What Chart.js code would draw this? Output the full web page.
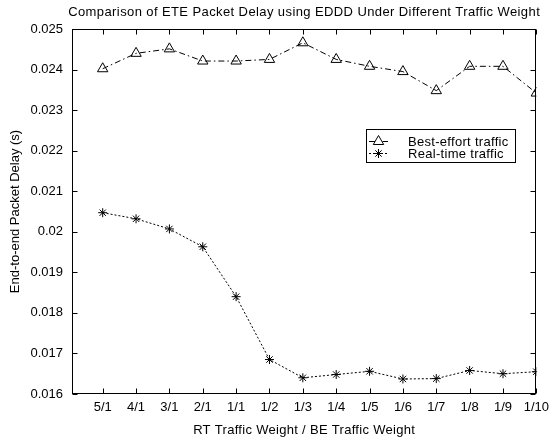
<!DOCTYPE html>
<html>
<head>
<meta charset="utf-8">
<script src="https://cdn.jsdelivr.net/npm/chart.js@4"></script>
<style>
  html, body { margin: 0; padding: 0; background: #fff; }
  #wrap { width: 555px; height: 444px; position: relative; }
</style>
</head>
<body>
<div id="wrap"><canvas id="my-chart"></canvas></div>
<script>
// values
const weightLabels = ["5/1", "4/1", "3/1", "2/1", "1/1", "1/2", "1/3", "1/4", "1/5", "1/6", "1/7", "1/8", "1/9", "1/10"];
const bestEffort = [0.02402, 0.0244, 0.02451, 0.02421, 0.02421, 0.02425, 0.02466, 0.02425, 0.02408, 0.02395, 0.02348, 0.02408, 0.02408, 0.02342];
const realTime = [0.02047, 0.02032, 0.02007, 0.01963, 0.0184, 0.01685, 0.0164, 0.01648, 0.01656, 0.01637, 0.01638, 0.01658, 0.0165, 0.01655];
const yMin = 0.016;
const yMax = 0.025;
const yStep = 0.001;

const titleText = "Comparison of ETE Packet Delay using EDDD Under Different Traffic Weight";
const xTitleText = "RT Traffic Weight / BE Traffic Weight";

const FONT = "'Liberation Sans', Arial, sans-serif";
const ctx = document.getElementById("my-chart");

function toPoints(values) {
  return values.map((v, i) => ({ x: i + 1, y: v }));
}

// box round the axes with inward tick marks, like the matlab figure
const boxPlugin = {
  id: "boxPlugin",
  afterDatasetsDraw(chart) {
    const { ctx, chartArea: a, scales } = chart;
    const L = Math.round(a.left) + 0.5, R = Math.round(a.right) - 0.5;
    const T = Math.round(a.top) + 0.5, B = Math.round(a.bottom) - 0.5;
    ctx.save();
    ctx.setLineDash([]);
    ctx.strokeStyle = "#000";
    ctx.lineWidth = 1;
    ctx.strokeRect(L, T, R - L, B - T);
    const len = 5;
    ctx.beginPath();
    scales.x.ticks.forEach((t) => {
      const px = Math.round(scales.x.getPixelForValue(t.value)) + 0.5;
      ctx.moveTo(px, B); ctx.lineTo(px, B - len);
      ctx.moveTo(px, T); ctx.lineTo(px, T + len);
    });
    scales.y.ticks.forEach((t) => {
      const py = Math.round(scales.y.getPixelForValue(t.value)) + 0.5;
      ctx.moveTo(L, py); ctx.lineTo(L + len, py);
      ctx.moveTo(R, py); ctx.lineTo(R - len, py);
    });
    ctx.stroke();
    ctx.restore();
  },
};

// titles centred over the axes box (matlab spaces letters a bit wider)
const axesTitles = {
  id: "axesTitles",
  afterDraw(chart) {
    const c = chart.ctx;
    const a = chart.chartArea;
    const cx = (a.left + a.right) / 2;
    c.save();
    c.fillStyle = "#000";
    c.font = "13px " + FONT;
    c.textAlign = "center";
    c.textBaseline = "middle";
    c.letterSpacing = "0.4px";
    c.fillText(titleText, cx, 12.5);
    c.letterSpacing = "0.3px";
    c.fillText(xTitleText, cx, 430.5);
    c.restore();
  },
};

// legend box inside the plot
const boxLegend = {
  id: "boxLegend",
  afterDraw(chart) {
    const c = chart.ctx;
    const x0 = 366, y0 = 129.5, w = 149, h = 33;
    c.save();
    c.fillStyle = "#fff";
    c.fillRect(x0, y0, w, h);
    c.strokeStyle = "#000";
    c.lineWidth = 1;
    c.setLineDash([]);
    c.strokeRect(x0 + 0.5, y0, w, h);
    chart.data.datasets.forEach((ds, i) => {
      const y = 141.5 + i * 12;
      c.strokeStyle = "#000";
      c.lineWidth = 1;
      c.setLineDash(ds.borderDash || []);
      c.beginPath();
      c.moveTo(369, y);
      c.lineTo(388, y);
      c.stroke();
      c.setLineDash([]);
      Chart.helpers.drawPoint(c, {
        pointStyle: ds.pointStyle,
        radius: ds.pointRadius,
        rotation: 0,
        borderWidth: 1,
      }, 378.5, y);
      c.fillStyle = "#000";
      c.font = "13px " + FONT;
      c.textBaseline = "middle";
      c.letterSpacing = "0.3px";
      c.fillText(ds.label, 408, y + 0.5);
    });
    c.restore();
  },
};

const chart = new Chart(ctx, {
  type: "line",
  data: {
    datasets: [
      {
        label: "Best-effort traffic",
        data: toPoints(bestEffort),
        borderColor: "#000",
        borderWidth: 1,
        borderDash: [6, 3, 1.5, 3],
        pointStyle: "triangle",
        pointRadius: 6,
        pointBorderColor: "#000",
        pointBackgroundColor: "rgba(0,0,0,0)",
        pointBorderWidth: 1,
        tension: 0,
      },
      {
        label: "Real-time traffic",
        data: toPoints(realTime),
        borderColor: "#000",
        borderWidth: 1,
        borderDash: [2, 2],
        pointStyle: "star",
        pointRadius: 4.5,
        pointBorderColor: "#000",
        pointBackgroundColor: "#000",
        pointBorderWidth: 1,
        tension: 0,
      },
    ],
  },
  options: {
    responsive: true,
    maintainAspectRatio: false,
    animation: false,
    devicePixelRatio: 1,
    layout: { padding: { left: 0, right: 18, top: 29, bottom: 0 } },
    plugins: {
      legend: { display: false },
      tooltip: { enabled: false },
      title: { display: false },
    },
    scales: {
      x: {
        type: "linear",
        min: 0.08,
        max: weightLabels.length,
        afterBuildTicks: (scale) => {
          scale.ticks = weightLabels.map((_, i) => ({ value: i + 1 }));
        },
        afterFit: (scale) => { scale.height = 50; },
        grid: { display: false, drawTicks: false },
        border: { display: false },
        ticks: {
          color: "#000",
          padding: 6,
          maxRotation: 0,
          autoSkip: false,
          font: { family: FONT, size: 13 },
          callback: (v) => weightLabels[Math.round(v) - 1],
        },
      },
      y: {
        min: yMin,
        max: yMax,
        afterFit: (scale) => { scale.width = 72; },
        grid: { display: false, drawTicks: false },
        border: { display: false },
        ticks: {
          stepSize: yStep,
          color: "#000",
          padding: 9,
          font: { family: FONT, size: 13 },
          callback: (v) => String(parseFloat(v.toFixed(3))),
        },
        title: {
          display: true,
          text: "End-to-end Packet Delay (s)",
          color: "#000",
          font: { family: FONT, size: 13 },
          padding: { top: 8, bottom: 0 },
        },
      },
    },
  },
  plugins: [boxPlugin, axesTitles, boxLegend],
});
</script>
</body>
</html>
